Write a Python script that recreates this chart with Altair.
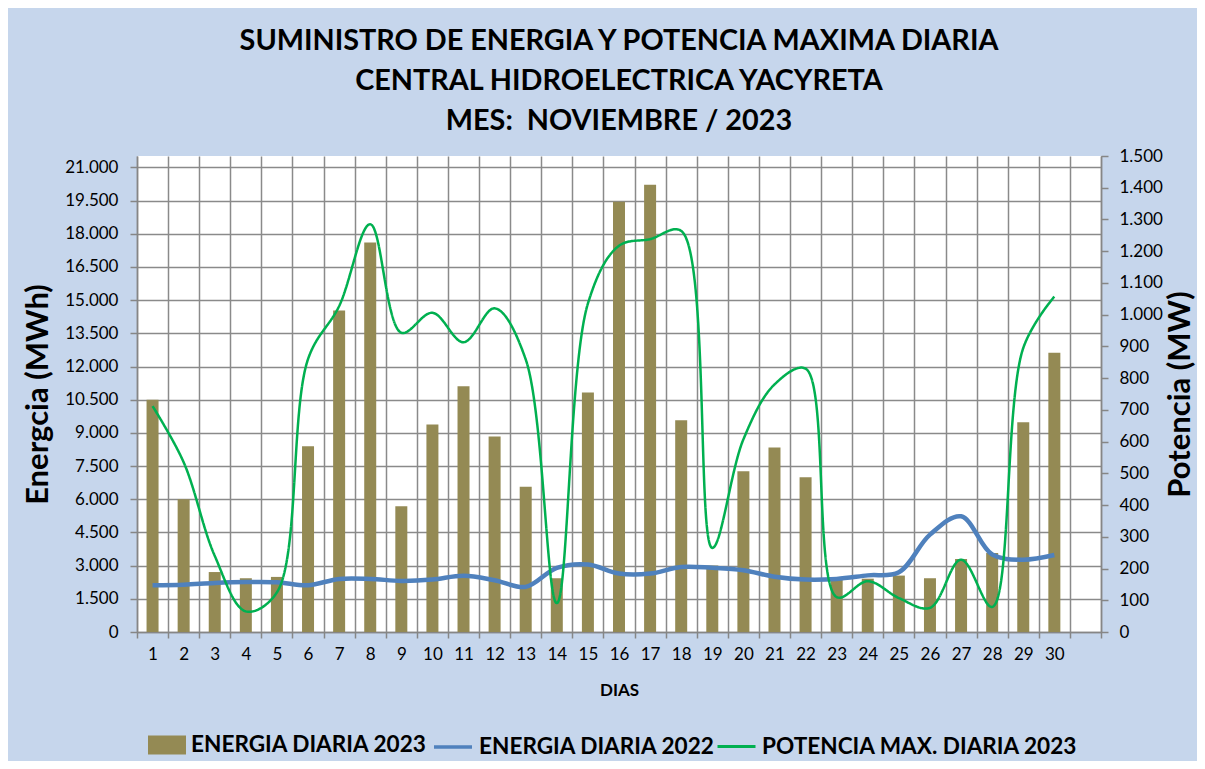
import altair as alt
import pandas as pd

# ---- data ----
dias = list(range(1, 31))
energia_2023 = [10500, 6000, 2710, 2430, 2490, 8400, 14530, 17610, 5680, 9380,
                11110, 8840, 6560, 2430, 10830, 19450, 20220, 9570, 3010, 7270,
                8340, 7000, 2440, 2410, 2550, 2430, 3300, 3570, 9480, 12620]
energia_2022 = [2110, 2140, 2220, 2260, 2250, 2110, 2400, 2400, 2310, 2370,
                2540, 2340, 2040, 2900, 3050, 2640, 2640, 2940, 2900, 2790,
                2500, 2370, 2400, 2560, 2700, 4400, 5230, 3500, 3270, 3480]
potencia_2023 = [712, 535, 240, 65, 125, 860, 1027, 1285, 943, 1006,
                 913, 1020, 859, 91, 1035, 1217, 1238, 1264, 265, 607,
                 780, 830, 110, 160, 107, 76, 228, 79, 895, 1057]

series = ["ENERGIA DIARIA 2023", "ENERGIA DIARIA 2022", "POTENCIA MAX. DIARIA 2023"]
colores = ["#948A54", "#4F81BD", "#00B050"]
x_dominio = list(range(1, 32))
ticks_energia = list(range(0, 21001, 1500))
ticks_potencia = list(range(0, 1501, 100))
titulo = ["SUMINISTRO DE ENERGIA Y POTENCIA MAXIMA DIARIA",
          "CENTRAL HIDROELECTRICA YACYRETA",
          "MES:\u00a0 NOVIEMBRE / 2023"]

df = pd.DataFrame({"dia": dias, "e23": energia_2023, "e22": energia_2022, "p23": potencia_2023})

FONT = "Lato"
GRID = "#8a8a8a"
thousands = "replace(format(datum.value, ','), ',', '.')"
LEG_Y = 570
W, H = 964, 476


def leg(x, **kw):
    return alt.Legend(title=None, orient="none", legendX=x, legendY=LEG_Y,
                      labelFont=FONT, labelFontSize=22.6, labelFontWeight="bold",
                      labelColor="black", labelOffset=5, labelLimit=600,
                      symbolSize=1444, **kw)


x_enc = alt.X(
    "dia:O",
    scale=alt.Scale(domain=x_dominio, paddingInner=0, paddingOuter=0),
    axis=alt.Axis(title="DIAS", titleFont=FONT, titleFontSize=17, titleFontWeight="bold",
                  titleColor="black", titlePadding=20, labelAngle=0, tickBand="extent",
                  grid=True, gridColor=GRID, gridWidth=1.5, tickSize=6, labelPadding=8,
                  labelExpr="datum.value == 31 ? '' : datum.label"),
)

e_scale = alt.Scale(domain=[0, 21516], nice=False, zero=True)
e_axis = alt.Axis(values=ticks_energia, labelExpr=thousands, title="Energcia (MWh)",
                  titleFont=FONT, titleFontSize=31, titleFontWeight="bold",
                  titleColor="black", titleAngle=270, titleBaseline="middle",
                  titleAlign="center", titleX=-99, titleY=H / 2,
                  grid=True, gridColor=GRID, gridWidth=1.5, tickSize=7, labelPadding=12)

bars = alt.Chart(df).transform_calculate(serie="'%s'" % series[0]).mark_bar(size=12).encode(
    x=x_enc,
    y=alt.Y("e23:Q", scale=e_scale, axis=e_axis),
    color=alt.Color("serie:N", scale=alt.Scale(domain=[series[0]], range=[colores[0]]),
                    legend=leg(11, symbolType="M-1,-0.5H1V0.5H-1Z", symbolStrokeWidth=0,
                               symbolOpacity=1)),
)

blue = alt.Chart(df).transform_calculate(serie="'%s'" % series[1]).mark_line(
    strokeWidth=4.5, interpolate="catmull-rom").encode(
    x=x_enc,
    y=alt.Y("e22:Q", scale=e_scale, axis=e_axis),
    stroke=alt.Stroke("serie:N", scale=alt.Scale(domain=[series[1]], range=[colores[1]]),
                      legend=leg(295, symbolType="stroke", symbolStrokeWidth=3.5)),
)

green = alt.Chart(df).transform_calculate(serie="'%s'" % series[2]).mark_line(
    strokeWidth=2.5, interpolate="catmull-rom", color=colores[2]).encode(
    x=x_enc,
    y=alt.Y("p23:Q", scale=alt.Scale(domain=[0, 1500], nice=False),
            axis=alt.Axis(orient="right", values=ticks_potencia, labelExpr=thousands,
                          title="Potencia (MW)", titleAngle=270, titleBaseline="middle",
                          titleAlign="center", titleX=79, titleY=H / 2, titleFont=FONT,
                          titleFontSize=31, titleFontWeight="bold", titleColor="black",
                          grid=False, tickSize=7, labelPadding=11)),
    strokeDash=alt.StrokeDash("serie:N", scale=alt.Scale(domain=[series[2]], range=[[1, 0]]),
                              legend=leg(579, symbolType="stroke", symbolStrokeWidth=3,
                                         symbolStrokeColor=colores[2])),
)

chart = alt.layer(alt.layer(bars, blue), green).resolve_scale(y="independent").properties(
    width=W, height=H,
    autosize=alt.AutoSizeParams(type="none"),
    padding={"left": 129, "top": 148, "right": 96, "bottom": 129},
    title=alt.TitleParams(text=titulo, font=FONT, fontSize=28.8, fontWeight="bold",
                          color="black", lineHeight=40, anchor="middle", offset=11),
).configure(background="#c6d6ec").configure_view(fill="white", strokeWidth=0).configure_axis(
    labelFont=FONT, labelFontSize=17, labelColor="black",
    domainColor="#868686", tickColor="#868686", domainWidth=1.5, tickWidth=1.5,
)

chart.save("out.html", embed_options={"renderer": "svg", "actions": False})
